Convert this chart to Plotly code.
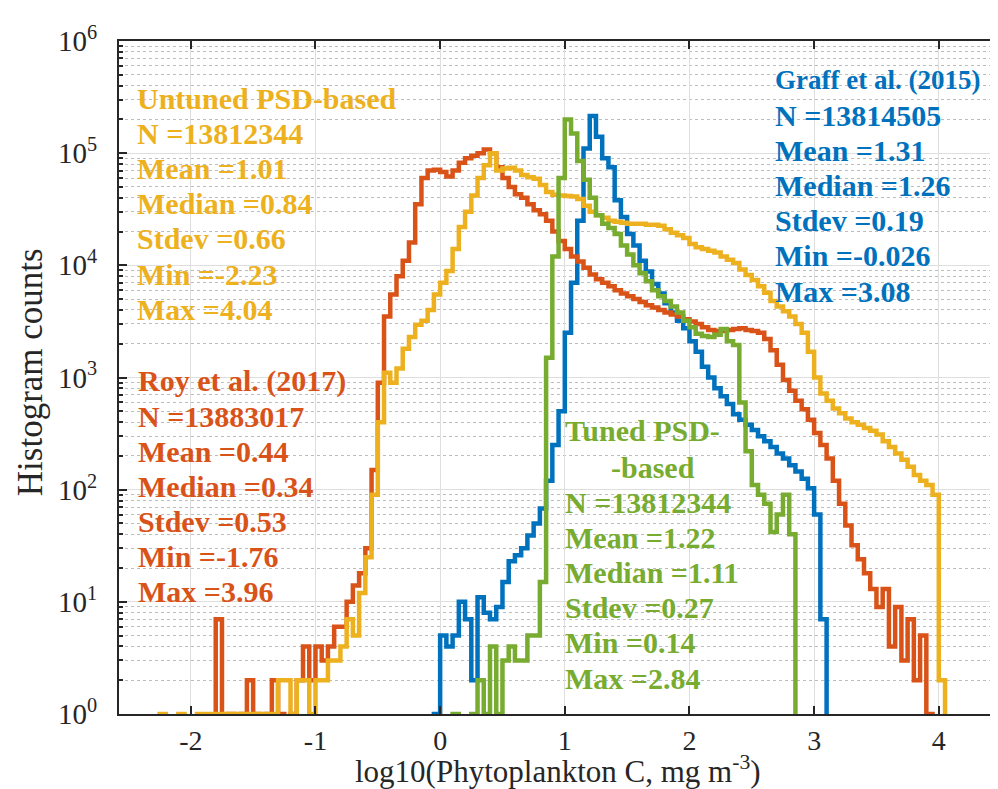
import numpy as np
import plotly.graph_objects as go

# ---------------- data ----------------
# histogram bins: width 0.05, first edge -2.40 (130 bins)
bin_start = -2.40
bin_width = 0.05

graff_counts = [0]*47 + [
    1, 5, 4, 5, 10, 7, 2, 11, 8, 7,
    9, 15, 23, 26, 30, 39, 50, 68, 120, 250,
    500, 2500, 7000, 25000, 110000, 215000, 140000, 90000, 75000, 38000,
    27000, 19000, 15000, 11000, 8800, 6800, 5600, 4600, 3800, 3200,
    2750, 2100, 1700, 1250, 1000, 800, 680, 580, 470, 420,
    380, 340, 300, 270, 240, 210, 190, 165, 145, 125,
    103, 60, 7] + [0]*20

roy_counts = [
    0, 0, 0, 0, 0, 0, 0, 0, 0, 0,
    0, 0, 7, 0, 1, 0, 1, 2, 1, 0,
    1, 2, 1, 0, 1, 2, 4, 2, 4, 3,
    4, 6, 6, 10, 14, 18, 30, 150, 900, 3500,
    5500, 8000, 11000, 16000, 35000, 60000, 70000, 71000, 68000, 62000,
    70000, 82000, 90000, 95000, 100000, 108000, 100000, 75000, 60000, 50000,
    43000, 40000, 35000, 31000, 28500, 25000, 20000, 16500, 14000, 12000,
    10800, 9500, 8300, 7500, 7000, 6500, 6000, 5600, 5300, 5000,
    4700, 4400, 4200, 4000, 3800, 3650, 3500, 3300, 3150, 3000,
    2800, 2650, 2600, 2600, 2650, 2700, 2750, 2650, 2600, 2500,
    2200, 1750, 1300, 950, 760, 620, 520, 420, 320, 250,
    190, 120, 75, 48, 32, 24, 18, 13, 9, 13,
    4, 9, 3, 7, 2, 5, 1, 0, 0, 0]

untuned_counts = [
    0, 0, 0, 1, 0, 0, 1, 0, 0, 1,
    1, 1, 1, 1, 1, 1, 1, 1, 1, 1,
    1, 1, 2, 2, 1, 2, 2, 1, 2, 2,
    3, 3, 4, 7, 5, 12, 25, 90, 400, 1100,
    900, 1200, 1800, 2300, 2950, 3200, 4000, 5500, 7000, 8900,
    14000, 22000, 30000, 42000, 60000, 78000, 100000, 70000, 73000, 74000,
    70000, 64000, 61000, 59000, 52000, 45000, 42500, 42000, 41500, 41000,
    39000, 34000, 30000, 28000, 26500, 25000, 24500, 24000, 23500, 23500,
    23500, 23000, 23000, 22500, 21000, 19500, 18500, 17500, 15500, 14500,
    14000, 13500, 13000, 12000, 11200, 10500, 9200, 8200, 7400, 6500,
    5700, 4800, 4300, 3900, 3500, 3000, 2500, 1700, 1000, 720,
    620, 530, 480, 430, 400, 380, 355, 335, 310, 270,
    240, 210, 185, 160, 135, 120, 110, 90, 2, 0]

tuned_counts = [0]*50 + [
    1, 0, 0, 1, 2, 1, 4, 1, 3, 4,
    3, 3, 5, 5, 15, 1500, 12000, 60000, 200000, 150000,
    85000, 58000, 40000, 28000, 23500, 21500, 19000, 15000, 12500, 10000,
    8500, 7200, 6000, 5300, 4800, 4300, 3800, 3200, 2800, 2450,
    2350, 2300, 2400, 2700, 2100, 1950, 600, 220, 110, 90,
    75, 42, 60, 90, 40] + [0]*25

series_names = ["Graff et al. (2015)", "Roy et al. (2017)",
                "Untuned PSD-based", "Tuned PSD-based"]
series_colors = ["#0072BD", "#D95319", "#EDB120", "#77AC30"]

x_tick_vals = [-2, -1, 0, 1, 2, 3, 4]
y_tick_vals = [1, 10, 100, 1000, 10000, 100000, 1000000]
y_tick_text = ["10<sup>0</sup>", "10<sup>1</sup>", "10<sup>2</sup>", "10<sup>3</sup>",
               "10<sup>4</sup>", "10<sup>5</sup>", "10<sup>6</sup>"]

stats_untuned = ["Untuned PSD-based", "N =13812344", "Mean =1.01", "Median =0.84",
                 "Stdev =0.66", "Min =-2.23", "Max =4.04"]
stats_roy = ["Roy et al. (2017)", "N =13883017", "Mean =0.44", "Median =0.34",
             "Stdev =0.53", "Min =-1.76", "Max =3.96"]
stats_graff = ["Graff et al. (2015)", "N =13814505", "Mean =1.31", "Median =1.26",
               "Stdev =0.19", "Min =-0.026", "Max =3.08"]
stats_tuned_head = ["Tuned PSD-", "-based"]
stats_tuned = ["N =13812344", "Mean =1.22", "Median =1.11", "Stdev =0.27",
               "Min =0.14", "Max =2.84"]

# ---------------- figure ----------------
W, H = 998, 789
ML, MR, MT, MB = 111, 1, 33, 83
PW, PH = W - ML - MR, H - MT - MB

def xp(px):
    return (px - ML) / PW

def yp(py):
    return (H - MB - py) / PH

FONT = "Liberation Serif"
AX = "#262626"
TXT = 30
DX = -9  # annotation box padding compensation

fig = go.Figure()
all_counts = [graff_counts, roy_counts, untuned_counts, tuned_counts]
for name, col, cnt in zip(series_names, series_colors, all_counts):
    cnt = np.array(cnt, dtype=float)
    edges = bin_start + bin_width * np.arange(len(cnt) + 1)
    nz = np.nonzero(cnt)[0]
    i0, i1 = nz[0], nz[-1]
    c = cnt[i0:i1 + 1]
    c = np.where(c > 0, c, 0.3)  # empty bins drop below the axis
    xs = np.concatenate([[edges[i0]], edges[i0:i1 + 2]])
    ys = np.concatenate([[0.3], c, [0.3]])
    fig.add_trace(go.Scatter(x=xs, y=ys, mode="lines", line=dict(color=col, width=4.5, shape="hv"),
                             name=name, showlegend=False, hoverinfo="skip"))

ann = []
def one(t, px, py, color, size=TXT):
    ann.append(dict(text="<b>" + t + "</b>", x=xp(px + DX), y=yp(py), xref="paper", yref="paper",
                    xanchor="left", yanchor="middle", showarrow=False,
                    font=dict(family=FONT, size=size, color=color)))

def add_block(lines, px, py0, step, color):
    for k, t in enumerate(lines):
        one(t, px, py0 + k * step, color)

add_block(stats_untuned, 136, 90, 35.2, series_colors[2])
add_block(stats_roy, 137, 373, 35.0, series_colors[1])
one(stats_graff[0], 775, 72, series_colors[0], size=27)
add_block(stats_graff[1:], 775, 107.2, 35.2, series_colors[0])
one(stats_tuned_head[0], 565, 423, series_colors[3])
one(stats_tuned_head[1], 611, 459, series_colors[3])
add_block(stats_tuned, 565, 494, 35.2, series_colors[3])

ann.append(dict(text="Histogram counts", x=xp(22), y=yp(364), xref="paper", yref="paper",
                textangle=-90, showarrow=False, xanchor="center", yanchor="middle",
                font=dict(family=FONT, size=35, color=AX)))
ann.append(dict(text="log10(Phytoplankton C, mg m<sup>-3</sup>)", x=xp(551), y=yp(783), xref="paper", yref="paper",
                showarrow=False, xanchor="center", yanchor="bottom",
                font=dict(family=FONT, size=31, color=AX)))

fig.update_layout(
    width=W, height=H,
    margin=dict(l=ML, r=MR, t=MT, b=MB, pad=0),
    plot_bgcolor="white", paper_bgcolor="white",
    font=dict(family=FONT, size=28, color=AX),
    annotations=ann,
)
fig.update_xaxes(
    range=[-2.576, 4.515], tickvals=x_tick_vals, ticktext=[str(v) for v in x_tick_vals],
    showgrid=True, gridcolor="#dedede", gridwidth=1.2,
    ticks="inside", ticklen=8, tickwidth=1.5, tickcolor=AX,
    showline=True, linecolor=AX, linewidth=2, mirror="ticks",
    zeroline=False, tickfont=dict(family=FONT, size=28, color=AX),
    ticklabelstandoff=0,
)
fig.update_yaxes(
    type="log", range=[0, 6], tickvals=y_tick_vals, ticktext=y_tick_text,
    showgrid=True, gridcolor="#dedede", gridwidth=1.2,
    ticks="inside", ticklen=8, tickwidth=1.5, tickcolor=AX,
    showline=True, linecolor=AX, linewidth=2, mirror="ticks",
    zeroline=False, tickfont=dict(family=FONT, size=29, color=AX),
    ticklabelstandoff=14,
    minor=dict(dtick="D1", showgrid=True, gridcolor="#bdbdbd", griddash="dot", gridwidth=1,
               ticks="inside", ticklen=4, tickcolor=AX),
)

fig.write_html("out.html")
